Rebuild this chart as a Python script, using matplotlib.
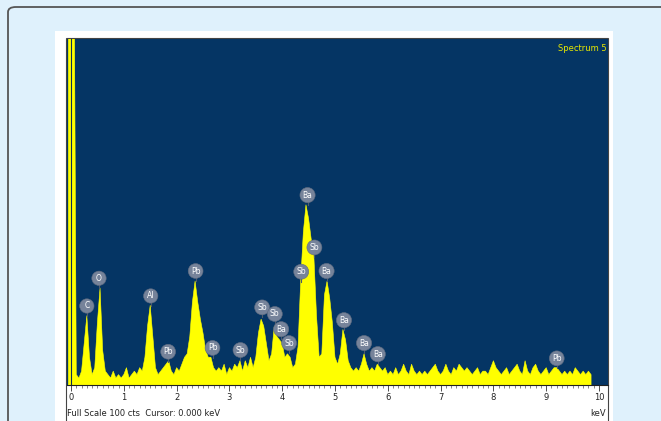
import numpy as np
import matplotlib
matplotlib.use("Agg")
import matplotlib.pyplot as plt
from matplotlib.patches import FancyBboxPatch, Rectangle

# EDX spectrum, counts per 0.05 keV channel starting at -0.05 keV
e_start = -0.05
e_step = 0.05
counts = [150, 150, 150, 3, 2, 4, 12, 20, 8, 3,            # -0.05 .. 0.40
          5, 18, 28, 10, 4, 3, 2, 4, 2, 3,                 # 0.45 .. 0.90
          2, 3, 5, 2, 3, 4, 3, 5, 4, 8,                    # 0.95 .. 1.40
          17, 23, 14, 5, 3, 4, 5, 6, 7, 4,                 # 1.45 .. 1.90
          3, 5, 4, 6, 8, 9, 14, 24, 30, 24,                # 1.95 .. 2.40
          19, 15, 10, 8, 8, 5, 4, 5, 4, 6,                 # 2.45 .. 2.90
          3, 5, 4, 6, 5, 7, 4, 7, 5, 8,                    # 2.95 .. 3.40
          5, 8, 15, 19, 17, 12, 7, 9, 17, 14,              # 3.45 .. 3.90
          13, 12, 8, 9, 8, 5, 6, 11, 30, 44,               # 3.95 .. 4.40
          52, 48, 42, 37, 20, 8, 9, 26, 30, 25,            # 4.45 .. 4.90
          18, 8, 6, 9, 16, 13, 7, 5, 4, 5,                 # 4.95 .. 5.40
          4, 6, 9, 6, 4, 5, 4, 6, 5, 4,                    # 5.45 .. 5.90
          5, 3, 4, 3, 5, 3, 4, 6, 4, 3,                    # 5.95 .. 6.40
          6, 4, 3, 4, 3, 4, 3, 4, 5, 6,                    # 6.45 .. 6.90
          4, 3, 4, 6, 4, 3, 5, 4, 6, 5,                    # 6.95 .. 7.40
          4, 5, 4, 3, 4, 5, 3, 4, 4, 3,                    # 7.45 .. 7.90
          5, 7, 5, 4, 3, 4, 5, 3, 4, 5,                    # 7.95 .. 8.40
          6, 4, 3, 7, 4, 3, 5, 6, 4, 3,                    # 8.45 .. 8.90
          4, 5, 3, 4, 5, 5, 4, 3, 4, 3,                    # 8.95 .. 9.40
          4, 3, 5, 4, 3, 4, 3, 4, 3]                       # 9.45 .. 9.85
energy = e_start + e_step * np.arange(len(counts))

# element markers: symbol, keV, height of marker (cts)
lab_el = ["C", "O", "Al", "Pb", "Pb", "Pb", "Sb", "Sb", "Sb", "Ba",
          "Sb", "Sb", "Ba", "Sb", "Ba", "Ba", "Ba", "Ba", "Pb"]
lab_kev = [0.30, 0.53, 1.51, 1.84, 2.36, 2.68, 3.21, 3.62, 3.86, 3.98,
           4.13, 4.36, 4.48, 4.61, 4.84, 5.17, 5.55, 5.81, 9.20]
lab_cts = [22.8, 30.8, 25.7, 9.6, 32.9, 10.7, 10.1, 22.4, 20.5, 16.1,
           12.1, 32.7, 54.8, 39.7, 32.9, 18.7, 12.1, 8.9, 7.7]

W, H = 661, 421
fig = plt.figure(figsize=(W / 100, H / 100), dpi=100, facecolor="#dff1fc")

def fx(x):
    return x / W

def fy(y):
    return 1 - y / H

# card border, white panel, chart frame (behind the axes)
fig.add_artist(FancyBboxPatch((fx(8), fy(440)), fx(680 - 8), fy(7) - fy(440),
                              boxstyle="round,pad=0,rounding_size=0.012",
                              transform=fig.transFigure, fc="#dff1fc", ec="#555555", lw=1.3,
                              zorder=-3))
fig.add_artist(Rectangle((fx(55), fy(421)), fx(613 - 55), fy(31) - fy(421),
                         transform=fig.transFigure, fc="white", ec="none", zorder=-2))
fig.add_artist(Rectangle((fx(66), fy(425)), fx(608 - 66), fy(38) - fy(425),
                         transform=fig.transFigure, fc="white", ec="#444444", lw=0.8,
                         zorder=-1))

ax = fig.add_axes([fx(66.5), fy(385), fx(607.5 - 66.5), fy(38.5) - fy(385)])
ax.set_facecolor("#053564")
xmin = (66.5 - 71) / 52.8
xmax = (607.5 - 71) / 52.8
ax.set_xlim(xmin, xmax)
ax.set_ylim(0, 100)

ax.fill_between(energy, counts, color="#ffff00", lw=0.4, edgecolor="#ffff00")
ax.axvline(0, color="#0b2f55", lw=0.8)

for el, k, c in zip(lab_el, lab_kev, lab_cts):
    ax.plot([k, k], [c, c - 2.9], color="#4d5a6e", lw=0.8, zorder=3)
    ax.text(k, c, el, ha="center", va="center", fontsize=5.5, color="white",
            family=["Liberation Sans Narrow", "DejaVu Sans"], zorder=4,
            bbox=dict(boxstyle="circle,pad=0.35", fc="#76839a", ec="#5f6b80", lw=0.4))

for s in ["top", "left", "right"]:
    ax.spines[s].set_visible(False)
ax.spines["bottom"].set_color("#222222")
ax.spines["bottom"].set_linewidth(0.8)
ax.set_yticks([])
ax.set_xticks(np.arange(0, 11, 1))
ax.set_xticks(np.arange(0, 10.05, 0.1), minor=True)
ax.tick_params(axis="x", which="major", length=4, width=0.6, color="#333333",
               labelsize=6, pad=2, labelcolor="#222222")
ax.tick_params(axis="x", which="minor", length=2, width=0.5, color="#555555")
for t in ax.get_xticklabels():
    t.set_family(["Liberation Sans Narrow", "DejaVu Sans"])

ax.text(0.998, 0.985, "Spectrum 5", transform=ax.transAxes, ha="right", va="top",
        fontsize=6, color="#e8e800", family=["Liberation Sans Narrow", "DejaVu Sans"])
fig.text(fx(67), fy(413), "Full Scale 100 cts  Cursor: 0.000 keV", ha="left", va="center",
         fontsize=6, color="#222222", family=["Liberation Sans Narrow", "DejaVu Sans"])
fig.text(fx(606), fy(413), "keV", ha="right", va="center",
         fontsize=6, color="#222222", family=["Liberation Sans Narrow", "DejaVu Sans"])

fig.savefig("out.png", dpi=100, facecolor=fig.get_facecolor())
